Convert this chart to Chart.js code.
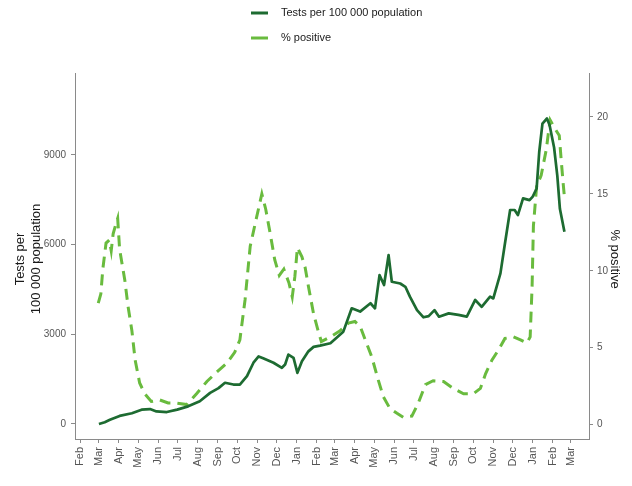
<!DOCTYPE html>
<html>
<head>
<meta charset="utf-8">
<script src="https://cdn.jsdelivr.net/npm/chart.js@4.4.1/dist/chart.umd.min.js"></script>
<style>
  html, body { margin: 0; padding: 0; background: #ffffff; }
  #wrap { position: relative; width: 632px; height: 486px; }
</style>
</head>
<body>
<div id="wrap"><canvas id="chart" width="632" height="486"></canvas></div>
<script>
// Weekly-ish readings: tests per 100 000 population
const testDates = [
  "2020-03-01","2020-03-10","2020-03-18","2020-04-02","2020-04-21","2020-05-06","2020-05-19","2020-05-29",
  "2020-06-14","2020-06-30","2020-07-17","2020-08-04","2020-08-20","2020-09-02","2020-09-12","2020-09-25",
  "2020-10-05","2020-10-16","2020-10-26","2020-11-03","2020-11-10","2020-11-26","2020-12-09","2020-12-14",
  "2020-12-19","2020-12-27","2021-01-02","2021-01-09","2021-01-19","2021-01-27","2021-02-06","2021-02-22",
  "2021-03-14","2021-03-27","2021-04-09","2021-04-25","2021-05-02","2021-05-09","2021-05-16","2021-05-23",
  "2021-05-28","2021-06-10","2021-06-18","2021-06-25","2021-07-06","2021-07-16","2021-07-24","2021-08-02",
  "2021-08-09","2021-08-24","2021-09-08","2021-09-21","2021-10-04","2021-10-14","2021-10-27","2021-11-01",
  "2021-11-12","2021-11-19","2021-11-27","2021-12-04","2021-12-09","2021-12-17","2021-12-27","2022-01-01",
  "2022-01-07","2022-01-11","2022-01-16","2022-01-23","2022-01-27","2022-02-03","2022-02-08","2022-02-12",
  "2022-02-19"
];
const testValues = [
  0, 60, 140, 270, 360, 480, 500, 420,
  400, 480, 590, 760, 1040, 1200, 1380, 1320,
  1320, 1600, 2050, 2260, 2200, 2050, 1880, 1990,
  2320, 2210, 1710, 2100, 2430, 2580, 2620, 2700,
  3090, 3870, 3760, 4040, 3870, 4980, 4650, 5650,
  4760, 4700, 4590, 4260, 3810, 3570, 3610, 3810,
  3590, 3700, 3650, 3590, 4150, 3920, 4260, 4200,
  5040, 6040, 7160, 7160, 6990, 7550, 7490, 7610,
  7880, 9100, 10050, 10220, 10000, 9250, 8300, 7200,
  6430
];

// Share of tests that were positive, in %
const positiveDates = [
  "2020-02-29","2020-03-04","2020-03-07","2020-03-12","2020-03-17","2020-03-20","2020-03-23","2020-03-27",
  "2020-03-30","2020-04-02","2020-04-10","2020-04-15","2020-04-21","2020-04-26","2020-05-03","2020-05-11",
  "2020-05-21","2020-06-03","2020-06-16","2020-06-29","2020-07-15","2020-07-30","2020-08-15","2020-08-30",
  "2020-09-15","2020-09-27","2020-10-05","2020-10-13","2020-10-21","2020-10-31","2020-11-08","2020-11-14",
  "2020-11-21","2020-11-28","2020-12-05","2020-12-12","2020-12-20","2020-12-25","2020-12-29","2021-01-02",
  "2021-01-09","2021-01-14","2021-01-19","2021-01-27","2021-02-03","2021-02-08","2021-02-22","2021-03-09",
  "2021-03-22","2021-04-01","2021-04-09","2021-04-17","2021-04-27","2021-05-07","2021-05-15","2021-05-25",
  "2021-06-05","2021-06-15","2021-06-28","2021-07-08","2021-07-19","2021-07-31","2021-08-16","2021-08-31",
  "2021-09-16","2021-10-01","2021-10-12","2021-10-20","2021-10-30","2021-11-09","2021-11-19","2021-12-02",
  "2021-12-13","2021-12-23","2021-12-28","2021-12-31","2022-01-02","2022-01-07","2022-01-14","2022-01-22",
  "2022-01-25","2022-01-28","2022-02-05","2022-02-11","2022-02-14","2022-02-17","2022-02-19"
];
const positiveValues = [
  7.9, 8.5, 10.1, 11.8, 12.0, 11.3, 12.4, 13.0,
  13.4, 11.4, 9.4, 7.7, 6.1, 4.2, 2.7, 2.0,
  1.5, 1.6, 1.4, 1.4, 1.3, 2.0, 2.8, 3.4,
  4.0, 4.7, 5.5, 8.1, 11.6, 13.5, 15.0, 14.0,
  12.4, 10.7, 9.7, 10.1, 9.2, 8.3, 9.6, 11.5,
  10.9, 10.2, 9.0, 7.2, 6.1, 5.4, 5.7, 6.1,
  6.6, 6.7, 6.4, 5.5, 4.4, 2.9, 1.8, 1.05,
  0.73, 0.47, 0.55, 1.4, 2.6, 2.85, 2.8, 2.35,
  2.0, 2.0, 2.35, 3.3, 4.2, 4.85, 5.6, 5.7,
  5.5, 5.3, 5.7, 9.0, 12.9, 15.5, 16.2, 17.9,
  18.9, 19.8, 19.2, 18.8, 17.2, 15.7, 14.8
];

// Axis ticks
const monthTicks = [
  "2020-02-01","2020-03-01","2020-04-01","2020-05-01","2020-06-01","2020-07-01","2020-08-01",
  "2020-09-01","2020-10-01","2020-11-01","2020-12-01","2021-01-01","2021-02-01","2021-03-01",
  "2021-04-01","2021-05-01","2021-06-01","2021-07-01","2021-08-01","2021-09-01","2021-10-01",
  "2021-11-01","2021-12-01","2022-01-01","2022-02-01","2022-03-01"
];
const monthNames = ["Jan","Feb","Mar","Apr","May","Jun","Jul","Aug","Sep","Oct","Nov","Dec"];
const testTicks = [0, 3000, 6000, 9000];
const positiveTicks = [0, 5, 10, 15, 20];

const seriesNames = ["Tests per 100 000 population", "% positive"];
const axisTitleTests = ["Tests per", "100 000 population"];
const axisTitlePositive = "% positive";

// Styling
const DARK = "#1d6b31";
const LIGHT = "#69bb3e";
const AXIS = "#8a8a8a";
const TICK_TEXT = "#555555";
const TITLE_TEXT = "#1a1a1a";
const FONT = "'Liberation Sans', Arial, Helvetica, sans-serif";

// Dates become day counts from 1 Feb 2020 so a linear axis can place them
const DAY0 = Date.UTC(2020, 1, 1);
function dayIndex(s) {
  const p = s.split("-").map(Number);
  return (Date.UTC(p[0], p[1] - 1, p[2]) - DAY0) / 86400000;
}
function monthLabel(s) {
  return monthNames[Number(s.split("-")[1]) - 1];
}

const testPoints = testDates.map((d, i) => ({ x: dayIndex(d), y: testValues[i] }));
const positivePoints = positiveDates.map((d, i) => ({ x: dayIndex(d), y: positiveValues[i] }));

// Legend (two stacked rows) and the two axis titles
const decorations = {
  id: "decorations",
  afterDraw(chart) {
    const ctx = chart.ctx;
    ctx.save();
    const rows = [13, 38];
    chart.data.datasets.forEach((ds, i) => {
      ctx.strokeStyle = ds.borderColor;
      ctx.lineWidth = 3;
      ctx.setLineDash([]);
      ctx.beginPath();
      ctx.moveTo(251, rows[i]);
      ctx.lineTo(268, rows[i]);
      ctx.stroke();
      ctx.fillStyle = TITLE_TEXT;
      ctx.font = "11px " + FONT;
      ctx.textAlign = "left";
      ctx.textBaseline = "middle";
      ctx.fillText(ds.label, 281, rows[i]);
    });

    const area = chart.chartArea;
    const midY = (area.top + area.bottom) / 2 + 3;
    ctx.font = "13px " + FONT;
    ctx.fillStyle = TITLE_TEXT;
    ctx.textAlign = "center";
    ctx.textBaseline = "middle";
    [20, 36].forEach((x, i) => {
      ctx.save();
      ctx.translate(x, midY);
      ctx.rotate(-Math.PI / 2);
      ctx.fillText(axisTitleTests[i], 0, 0);
      ctx.restore();
    });
    ctx.save();
    ctx.translate(615, midY);
    ctx.rotate(Math.PI / 2);
    ctx.fillText(axisTitlePositive, 0, 0);
    ctx.restore();
    ctx.restore();
  }
};

function axisStyle() {
  return {
    grid: { drawOnChartArea: false, drawTicks: true, tickLength: 4, color: AXIS, tickColor: AXIS, lineWidth: 1 },
    border: { display: true, color: AXIS, width: 1 }
  };
}

new Chart(document.getElementById("chart").getContext("2d"), {
  type: "line",
  data: {
    datasets: [
      {
        label: seriesNames[0],
        data: testPoints,
        yAxisID: "yTests",
        borderColor: DARK,
        backgroundColor: DARK,
        borderWidth: 2.7,
        pointRadius: 0,
        tension: 0,
        fill: false,
        borderJoinStyle: "round",
        borderCapStyle: "butt"
      },
      {
        label: seriesNames[1],
        data: positivePoints,
        yAxisID: "yPos",
        borderColor: LIGHT,
        backgroundColor: LIGHT,
        borderWidth: 3,
        borderDash: [11, 7],
        pointRadius: 0,
        tension: 0,
        fill: false,
        borderCapStyle: "butt"
      }
    ]
  },
  options: {
    responsive: false,
    animation: false,
    events: [],
    layout: { padding: { top: 73, left: 0, right: 0, bottom: 0 } },
    plugins: { legend: { display: false }, tooltip: { enabled: false }, title: { display: false } },
    scales: {
      x: Object.assign(axisStyle(), {
        type: "linear",
        min: dayIndex("2020-01-24"),
        max: dayIndex("2022-03-29"),
        afterBuildTicks(scale) { scale.ticks = monthTicks.map(m => ({ value: dayIndex(m) })); },
        afterFit(scale) { scale.height = 47; },
        ticks: {
          autoSkip: false,
          minRotation: 90,
          maxRotation: 90,
          padding: 4,
          color: TICK_TEXT,
          font: { family: FONT, size: 11 },
          callback: (v, i) => monthLabel(monthTicks[i])
        }
      }),
      yTests: Object.assign(axisStyle(), {
        type: "linear",
        position: "left",
        min: -502,
        max: 11743,
        afterBuildTicks(scale) { scale.ticks = testTicks.map(v => ({ value: v })); },
        afterFit(scale) { scale.width = 75; },
        ticks: { padding: 5, color: TICK_TEXT, font: { family: FONT, size: 10 }, callback: v => String(v) }
      }),
      yPos: Object.assign(axisStyle(), {
        type: "linear",
        position: "right",
        min: -0.94,
        max: 22.86,
        afterBuildTicks(scale) { scale.ticks = positiveTicks.map(v => ({ value: v })); },
        afterFit(scale) { scale.width = 43; },
        ticks: { padding: 4, color: TICK_TEXT, font: { family: FONT, size: 10 }, callback: v => String(v) }
      })
    }
  },
  plugins: [decorations]
});
</script>
</body>
</html>
